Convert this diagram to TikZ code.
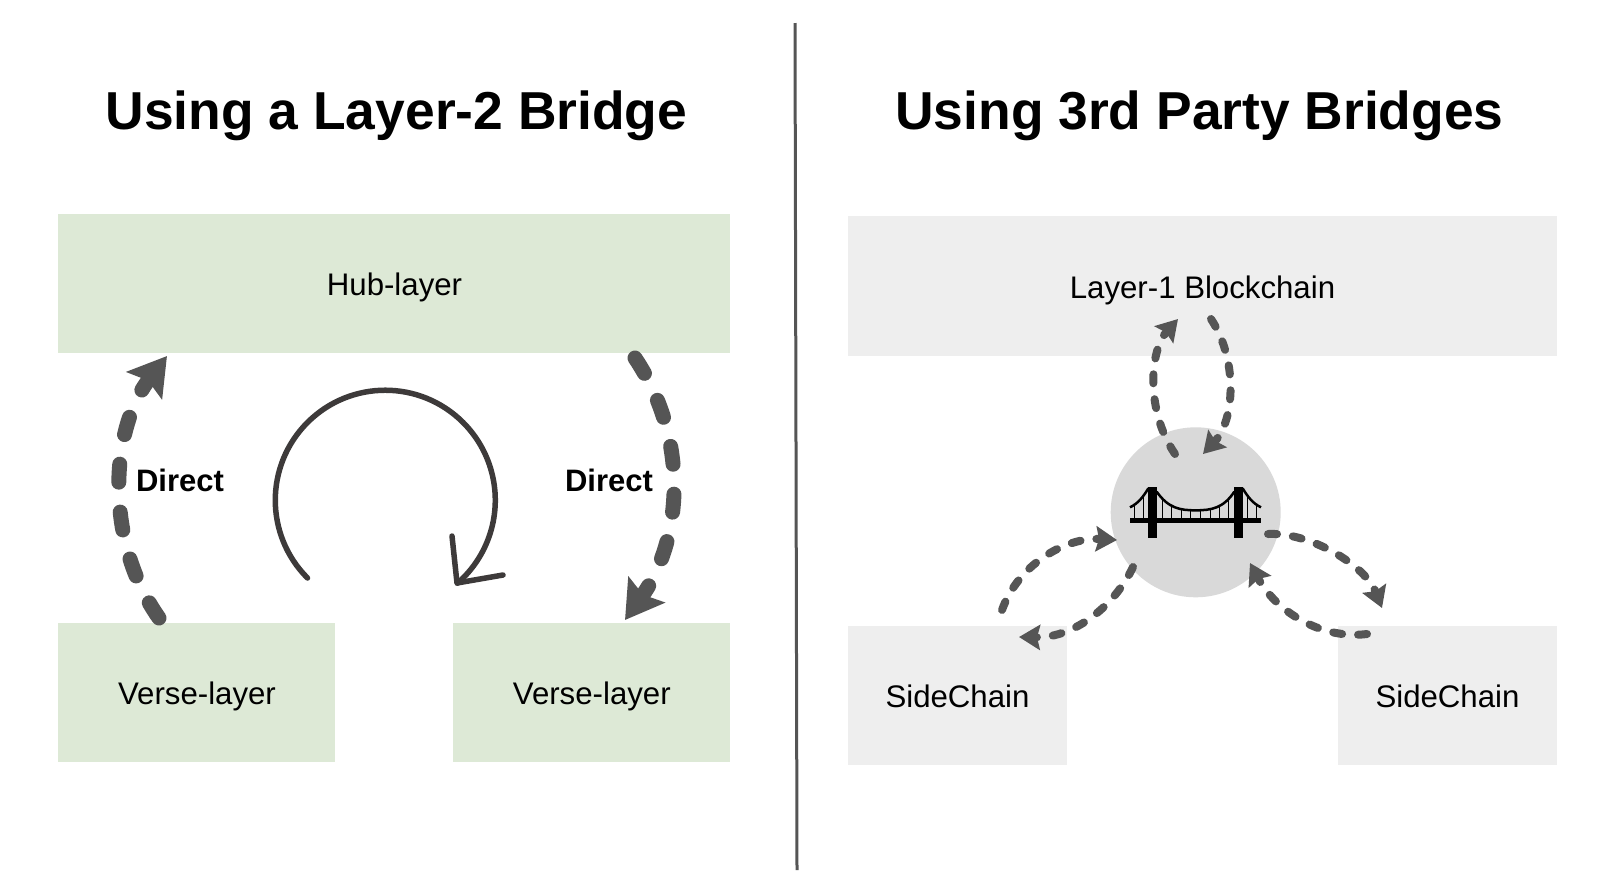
\documentclass[tikz,border=0pt]{standalone}
\usepackage{fontspec}
\setmainfont{Liberation Sans}
\usetikzlibrary{arrows.meta}
\definecolor{greenbox}{HTML}{DDE9D6}
\definecolor{greybox}{HTML}{EEEEEE}
\definecolor{hubgrey}{HTML}{D9D9D9}
\definecolor{arrowgrey}{HTML}{555555}
\definecolor{loopdark}{HTML}{3D3A3A}
\tikzset{
  x=1pt,y=-1pt,
  labelfont/.style={font=\fontsize{31.2}{36}\selectfont},
  boxgreen/.style={fill=greenbox,draw=none,inner sep=0,outer sep=0},
  boxgrey/.style={fill=greybox,draw=none,inner sep=0,outer sep=0},
  boxlabel/.style={labelfont,inner sep=0},
  titletext/.style={font=\bfseries\fontsize{53.4}{60}\selectfont,inner sep=0},
  directtext/.style={font=\bfseries\fontsize{31}{36}\selectfont,inner sep=0},
  bigdash/.style={draw=arrowgrey,line width=15pt,line cap=round,dash pattern=on 18pt off 30pt,
     -{Stealth[length=37pt,width=44pt,inset=6pt,fill=arrowgrey]}},
  smalldash/.style={draw=arrowgrey,line width=8pt,line cap=round,dash pattern=on 9pt off 16pt,
     -{Stealth[length=21pt,width=25pt,inset=3pt,fill=arrowgrey]}},
}
\begin{document}
\begin{tikzpicture}
\useasboundingbox (0,0) rectangle (1600,892);
\fill[white] (0,0) rectangle (1600,892);
\node[titletext] (t1) at (396.5,116) {Using a Layer-2 Bridge};
\node[titletext] (t2) at (1199.5,116) {Using 3rd Party Bridges};
\coordinate (d1) at (795,23); \coordinate (d2) at (797,870);
\draw[line width=3pt,color=arrowgrey] (d1) -- (d2);
% left
\node[boxgreen,minimum width=672pt,minimum height=139pt] (hub) at (394.3,283.5) {};
\node[boxlabel] (hubtext) at (394.5,287) {Hub-layer};
\node[boxgreen,minimum width=277pt,minimum height=139pt] (v1) at (196.8,692.5) {};
\node[boxlabel] (v1text) at (197,696) {Verse-layer};
\node[boxgreen,minimum width=277pt,minimum height=139pt] (v2) at (591.5,692.5) {};
\node[boxlabel] (v2text) at (591.8,696) {Verse-layer};
\node[directtext] (dl) at (180,480) {Direct};
\node[directtext] (dr) at (609,480) {Direct};
\coordinate (la) at (159,618); \coordinate (lb) at (167,356);
\draw[bigdash] (la) .. controls (104,540) and (110,430) .. (lb);
\coordinate (ra) at (635,358); \coordinate (rb) at (625,620);
\draw[bigdash] (ra) .. controls (690,440) and (682,540) .. (rb);
\coordinate (lo) at (307.5,578); \coordinate (lt) at (457,583);
\coordinate (lh1) at (452,536); \coordinate (lh2) at (503,575);
\draw[color=loopdark,line width=5.5pt,line cap=round] (lo) arc[start angle=135,end angle=409,radius=110];
\draw[color=loopdark,line width=5.5pt,line cap=round,line join=round] (lh1) -- (lt) -- (lh2);
% right
\node[boxgrey,minimum width=709pt,minimum height=140pt] (l1) at (1202.5,286) {};
\node[boxlabel] (l1text) at (1202.5,290) {Layer-1 Blockchain};
\node[boxgrey,minimum width=219pt,minimum height=139pt] (s1) at (957.5,695.5) {};
\node[boxlabel] (s1text) at (957.5,696) {SideChain};
\node[boxgrey,minimum width=219pt,minimum height=139pt] (s2) at (1447.5,695.5) {};
\node[boxlabel] (s2text) at (1447.5,696) {SideChain};
\node[circle,fill=hubgrey,minimum size=170pt,inner sep=0] (hubc) at (1195.7,512.3) {};
% bridge
\begin{scope}[shift={(1080,300)},x=0.3333pt,y=-0.3333pt]
\fill[black] (150,655) rectangle (543,668);
\fill[black] (205,560) -- (230,560) -- (230,715) -- (205,715) -- cycle;
\fill[black] (463,560) -- (488,560) -- (488,715) -- (463,715) -- cycle;
\draw[black,line width=2.5pt] (150,622) .. controls (175,610) and (190,590) .. (205,565);
\draw[black,line width=2.5pt] (543,622) .. controls (518,610) and (503,590) .. (488,565);
\draw[black,line width=2.5pt] (230,575) .. controls (265,625) and (300,631) .. (347,631) .. controls (394,631) and (430,625) .. (463,575);
\foreach \xa/\ya in {163/615,190/590,247/600,275/617,304/627,332/630,361/630,390/627,418/617,446/600,503/590,530/615}
  \draw[black,line width=1pt] (\xa,\ya) -- (\xa,655);
\end{scope}
% dashed arrows
\coordinate (a1) at (1175,454); \coordinate (a2) at (1178,319);
\draw[smalldash] (a1) .. controls (1145,410) and (1150,350) .. (a2);
\coordinate (b1) at (1211,319); \coordinate (b2) at (1203,454);
\draw[smalldash] (b1) .. controls (1238,360) and (1235,420) .. (b2);
\coordinate (c1) at (1002,610); \coordinate (c2) at (1117,540);
\draw[smalldash] (c1) .. controls (1018,565) and (1065,537) .. (c2);
\coordinate (e1) at (1133,567); \coordinate (e2) at (1019,637);
\draw[smalldash] (e1) .. controls (1115,605) and (1075,638) .. (e2);
\coordinate (f1) at (1268,534); \coordinate (f2) at (1382,608);
\draw[smalldash] (f1) .. controls (1310,532) and (1365,565) .. (f2);
\coordinate (g1) at (1367,634); \coordinate (g2) at (1250,563);
\draw[smalldash] (g1) .. controls (1320,640) and (1275,610) .. (g2);
\end{tikzpicture}
\end{document}
